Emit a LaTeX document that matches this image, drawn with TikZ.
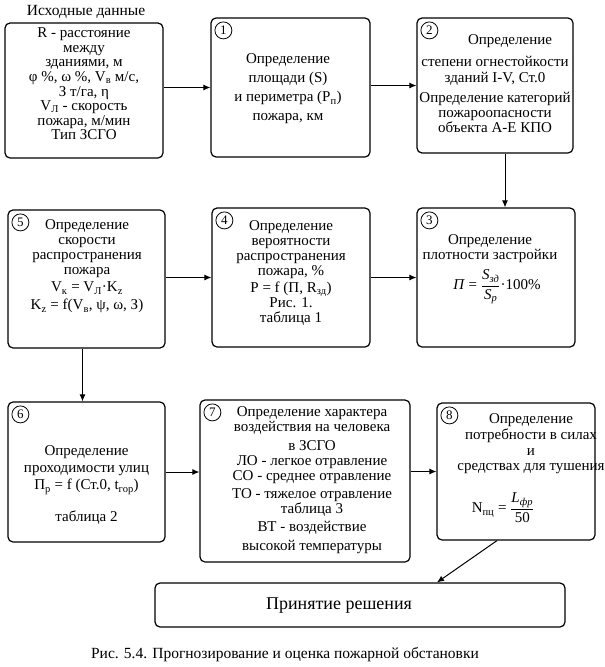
\documentclass[tikz,border=0pt]{standalone}
\usepackage{amsmath}
\usepackage{fontspec}
\setmainfont{Liberation Serif}
\usetikzlibrary{arrows.meta}

\begin{document}
\begin{tikzpicture}[x=1pt,y=-1pt,
    box/.style={draw, line width=1.2pt, rounded corners=5pt, inner sep=0pt},
    txt/.style={align=center, inner sep=0pt, font=\fontsize{15}{15}\selectfont},
    num/.style={draw, circle, line width=0.8pt, inner sep=0pt, minimum size=17pt, font=\fontsize{13}{13}\selectfont},
    arr/.style={-{Latex[length=7pt,width=6pt]}, line width=1pt}]
  \useasboundingbox (0,0) rectangle (605,667);

  % boxes
  \node[box, minimum width=158pt, minimum height=135pt] (b0) at (84,90.5) {};
  \node[box, minimum width=159pt, minimum height=139pt] (b1) at (290.5,87.5) {};
  \node[box, minimum width=156pt, minimum height=135pt] (b2) at (495,85.5) {};
  \node[box, minimum width=158pt, minimum height=139pt] (b3) at (496,277.5) {};
  \node[box, minimum width=158pt, minimum height=139pt] (b4) at (291,277.5) {};
  \node[box, minimum width=157pt, minimum height=138pt] (b5) at (86.5,279) {};
  \node[box, minimum width=157pt, minimum height=140pt] (b6) at (86.5,472) {};
  \node[box, minimum width=210pt, minimum height=162pt] (b7) at (305,481) {};
  \node[box, minimum width=158pt, minimum height=137pt] (b8) at (516,471.5) {};
  \node[box, minimum width=410pt, minimum height=44pt] (b9) at (360,605) {};

  \foreach \n in {1,...,8}{
    \node[num] (n\n) at ([xshift=13pt,yshift=-13pt]b\n.north west) {\n};
  }

  % texts
  \node[txt, font=\fontsize{15.5}{15.5}\selectfont] (title) at (86,12) {Исходные данные};
  \node[txt, font=\fontsize{15}{14.6}\selectfont] (t0) at (84,84) {R - расстояние\\между\\зданиями, м\\
    φ~\%, ω~\%, V\textsubscript{в} м/с,\\З т/га, η\\V\textsubscript{Л} - скорость\\пожара, м/мин\\Тип ЗСГО};
  \node[txt] (t1) at (288,89) {Определение\\[4pt]площади (S)\\[4pt]и периметра (Р\textsubscript{п})\\[4pt]пожара, км};
  \node[txt] (t2) at (495,84) {\hspace*{30pt}Определение\\[7pt]степени огнестойкости\\[1pt]зданий I-V, Ст.0\\[5pt]
    Определение категорий\\пожароопасности\\объекта А-Е КПО};
  \node[txt] (t3) at (490,248.5) {Определение\\плотности застройки};
  \node[txt] (f3) at (497,287) {\textit{П} = $\dfrac{\textit{S}_{\text{\itshape зд}}}{\textit{S}_{\text{\itshape р}}}$·100\%};
  \node[txt] (t4) at (291,273) {Определение\\вероятности\\распространения\\пожара, \%\\[2pt]
    P = f (П, R\textsubscript{зд})\\Рис. 1.\\таблица 1};
  \node[txt] (t5) at (87,266.5) {Определение\\скорости\\распространения\\пожара\\[2pt]
    V\textsubscript{к} = V\textsubscript{Л}·K\textsubscript{z}\\[3pt]K\textsubscript{z} = f(V\textsubscript{в}, ψ, ω, З)};
  \node[txt] (t6) at (86.5,485) {Определение\\[2pt]проходимости улиц\\[2pt]П\textsubscript{р} = f (Ст.0, t\textsubscript{гор})\\[15pt]таблица 2};
  \node[txt] (t7) at (312,480) {Определение характера\\воздействия на человека\\[4pt]в ЗСГО\\
    ЛО - легкое отравление\\СО - среднее отравление\\[3pt]ТО - тяжелое отравление\\таблица 3\\[3pt]
    ВТ - воздействие\hspace*{54pt}\\[4pt]высокой температуры};
  \node[txt] (t8) at (531,444) {Определение\\[1pt]потребности в силах\\[1pt]и\\средствах для тушения};
  \node[txt] (f8) at (503,508) {N\textsubscript{пц} = $\dfrac{\textit{L}_{\text{\itshape фр}}}{\text{50}}$};
  \node[txt, font=\fontsize{18}{18}\selectfont] (t9) at (339,606) {Принятие решения};
  \node[txt, font=\fontsize{15.5}{15.5}\selectfont] (cap) at (285,655) {Рис. 5.4. Прогнозирование и оценка пожарной обстановки};

  % connectors
  \draw[arr] (b0.east |- b1.west) -- (b1.west);
  \draw[arr] (b1.east |- b2.west) -- (b2.west);
  \draw[arr] ([xshift=10pt]b2.south) -- ([xshift=10pt]b2.south |- b3.north);
  \draw[arr] (b5.east |- b4.west) -- (b4.west);
  \draw[arr] (b4.east |- b3.west) -- (b3.west);
  \draw[arr] ([xshift=-4pt]b5.south) -- ([xshift=-4pt]b5.south |- b6.north);
  \draw[arr] (b6.east) -- (b6.east -| b7.west);
  \draw[arr] (b7.east |- b8.west) -- (b8.west);
  \draw[arr] ([xshift=-19pt]b8.south) -- ([xshift=77pt]b9.north);
\end{tikzpicture}
\end{document}
